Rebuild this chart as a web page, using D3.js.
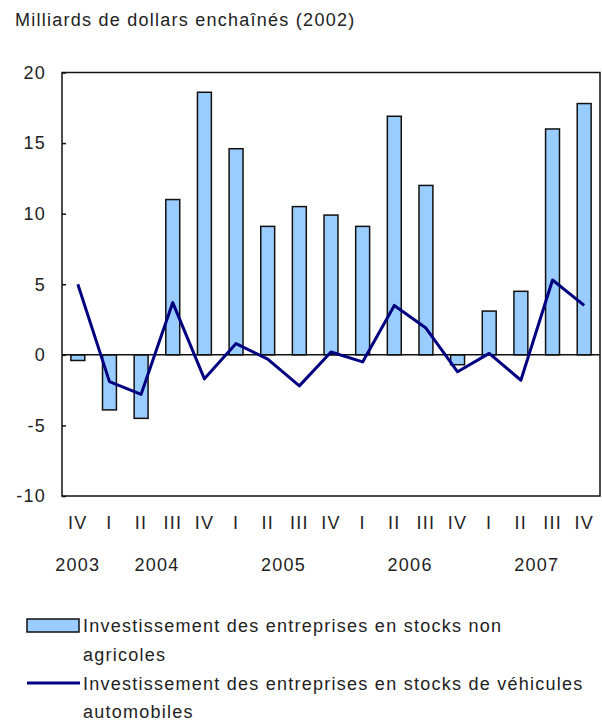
<!DOCTYPE html>
<html>
<head>
<meta charset="utf-8">
<script src="https://cdn.jsdelivr.net/npm/d3@7"></script>
<style>
  body { margin: 0; background: #fff; }
  svg text { font-family: "Liberation Sans", Arial, sans-serif; fill: #222; letter-spacing: 1.25px; }
</style>
</head>
<body>
<svg class="chart"></svg>
<script>
"use strict";

var width  = 602,
    height = 721;

// data
var quarters   = ["IV", "I", "II", "III", "IV", "I", "II", "III", "IV", "I", "II", "III", "IV", "I", "II", "III", "IV"];
var barValues  = [-0.4, -3.9, -4.5, 11.0, 18.6, 14.6, 9.1, 10.5, 9.9, 9.1, 16.9, 12.0, -0.7, 3.1, 4.5, 16.0, 17.8];
var lineValues = [5.0, -1.9, -2.8, 3.7, -1.7, 0.8, -0.3, -2.2, 0.2, -0.5, 3.5, 1.9, -1.2, 0.1, -1.8, 5.3, 3.5];
var years      = ["2003", "2004", "2005", "2006", "2007"];
var yearFirst  = [0, 1, 5, 9, 13];
var yearLast   = [0, 4, 8, 12, 16];
var yTicks     = [-10, -5, 0, 5, 10, 15, 20];
var title      = "Milliards de dollars enchaînés (2002)";
var legendBar  = ["Investissement des entreprises en stocks non", "agricoles"];
var legendLine = ["Investissement des entreprises en stocks de véhicules", "automobiles"];

var plot = {left: 62, right: 600, top: 72.5, bottom: 496};

var chart = d3.select(".chart")
              .attr("width", width)
              .attr("height", height);

var x = d3.scaleBand()
          .domain(d3.range(quarters.length))
          .range([plot.left, plot.right])
          .paddingInner(0.56)
          .paddingOuter(0.28);

var y = d3.scaleLinear()
          .domain([-10, 20])
          .range([plot.bottom, plot.top]);

function cx(i) { return x(i) + x.bandwidth() / 2; }

// title
chart.append("text")
     .attr("x", 15)
     .attr("y", 26)
     .style("font-size", "18px")
     .text(title);

// bars
chart.append("g")
     .selectAll("rect")
     .data(barValues)
     .enter().append("rect")
        .attr("x", function(d, i) { return x(i); })
        .attr("y", function(d) { return y(Math.max(0, d)); })
        .attr("width", x.bandwidth())
        .attr("height", function(d) { return Math.abs(y(d) - y(0)); })
        .style("fill", "#99ccff")
        .style("stroke", "#111")
        .style("stroke-width", 1.5);

// zero line
chart.append("line")
     .attr("x1", plot.left).attr("x2", plot.right)
     .attr("y1", y(0)).attr("y2", y(0))
     .style("stroke", "#111")
     .style("stroke-width", 1.5);

// frame
chart.append("rect")
     .attr("x", plot.left).attr("y", plot.top)
     .attr("width", plot.right - plot.left)
     .attr("height", plot.bottom - plot.top)
     .style("fill", "none")
     .style("stroke", "#111")
     .style("stroke-width", 1.5);

// y axis (plain hyphen for negatives, like the original)
var yAxis = d3.axisLeft(y)
              .tickValues(yTicks)
              .tickFormat(function(d) { return String(d); })
              .tickSizeInner(-4)
              .tickSizeOuter(0)
              .tickPadding(16);

var yg = chart.append("g")
              .attr("transform", "translate(" + plot.left + ",0)")
              .call(yAxis);
yg.select(".domain").remove();
yg.selectAll("line").style("stroke", "#111").style("stroke-width", 1.5);
yg.selectAll("text")
  .style("font-size", "18px")
  .style("font-family", "'Liberation Sans', Arial, sans-serif")
  .style("fill", "#222");

// line series
var line = d3.line()
             .x(function(d, i) { return cx(i); })
             .y(function(d) { return y(d); });

chart.append("path")
     .datum(lineValues)
     .attr("d", line)
     .style("fill", "none")
     .style("stroke", "#000080")
     .style("stroke-width", 3)
     .style("stroke-linejoin", "round");

// quarter labels
chart.append("g")
     .selectAll("text")
     .data(quarters)
     .enter().append("text")
        .attr("x", function(d, i) { return cx(i); })
        .attr("y", 529)
        .attr("text-anchor", "middle")
        .style("font-size", "18px")
        .text(function(d) { return d; });

// year labels
chart.append("g")
     .selectAll("text")
     .data(years)
     .enter().append("text")
        .attr("x", function(d, i) { return (cx(yearFirst[i]) + cx(yearLast[i])) / 2; })
        .attr("y", 571)
        .attr("text-anchor", "middle")
        .style("font-size", "18px")
        .text(function(d) { return d; });

// legend
var legend = chart.append("g");

legend.append("rect")
      .attr("x", 27).attr("y", 619)
      .attr("width", 52).attr("height", 13)
      .style("fill", "#99ccff")
      .style("stroke", "#111")
      .style("stroke-width", 1.5);

legend.append("line")
      .attr("x1", 27).attr("x2", 80)
      .attr("y1", 683).attr("y2", 683)
      .style("stroke", "#000080")
      .style("stroke-width", 3);

legend.selectAll("text.bar")
      .data(legendBar)
      .enter().append("text")
        .attr("class", "bar")
        .attr("x", 83)
        .attr("y", function(d, i) { return 632 + i * 29; })
        .style("font-size", "18px")
        .text(function(d) { return d; });

legend.selectAll("text.ln")
      .data(legendLine)
      .enter().append("text")
        .attr("class", "ln")
        .attr("x", 83)
        .attr("y", function(d, i) { return 690 + i * 28; })
        .style("font-size", "18px")
        .text(function(d) { return d; });
</script>
</body>
</html>
